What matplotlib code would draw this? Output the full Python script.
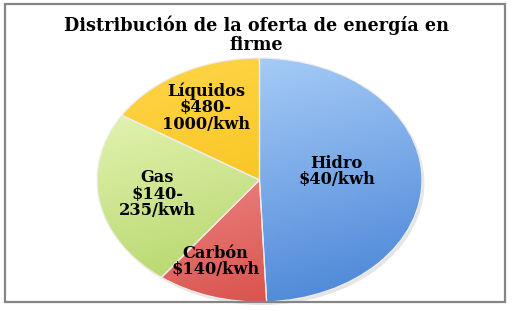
import numpy as np
import matplotlib.pyplot as plt
from matplotlib.colors import LinearSegmentedColormap
from matplotlib.patches import Rectangle, Ellipse

fuentes = ["Hidro", "Carbón", "Gas", "Líquidos"]
costos = ["$40/kwh", "$140/kwh", "$140-\n235/kwh", "$480-\n1000/kwh"]
participacion = [49.3, 11.0, 23.6, 16.1]

# light / dark end of each gradient
colores = [("#b4d6fb", "#4682d6"),
           ("#f9b0ae", "#d64640"),
           ("#eefbc4", "#a6cc52"),
           ("#ffd64a", "#f4b600")]
radio_etiqueta = [0.48, 0.72, 0.64, 0.68]
giro_etiqueta = [7, -5, 0, 0]

fig = plt.figure(figsize=(5.12, 3.11), dpi=100)
fig.patch.set_facecolor("white")

# frame
fig.patches.append(Rectangle((5/512, 1 - 302/311), 500/512, 298/311,
                             transform=fig.transFigure, fill=False,
                             edgecolor="#858585", linewidth=1.6))

fig.text(0.5, 1 - 34.5/311, "Distribución de la oferta de energía en\nfirme",
         ha="center", va="center", fontsize=12.7, fontweight="bold",
         family="DejaVu Serif", linespacing=1.1, color="black")

ax = fig.add_axes([97/512, 9/311, 325/512, 244/311])
wedges, _ = ax.pie(participacion, startangle=90, counterclock=False,
                   wedgeprops=dict(facecolor="none", edgecolor="#eeeeee",
                                   linewidth=0.9, zorder=3))

sombra = Ellipse((0.015, -0.025), 2.0, 2.0, facecolor="#aaaaaa", alpha=0.3,
                 edgecolor="none", zorder=0, clip_on=False)
ax.add_patch(sombra)

yy, xx = np.mgrid[1:-1:300j, -1:1:300j]
t = (0.35 * xx - yy + 1.35) / 2.7
for w, (c1, c2) in zip(wedges, colores):
    cmap = LinearSegmentedColormap.from_list("g", [c1, c2])
    im = ax.imshow(t, cmap=cmap, extent=(-1, 1, -1, 1), vmin=0, vmax=1,
                   zorder=1, aspect="auto", interpolation="bilinear")
    im.set_clip_path(w)

for w, nombre, costo, r, g in zip(wedges, fuentes, costos, radio_etiqueta, giro_etiqueta):
    ang = np.deg2rad((w.theta1 + w.theta2) / 2 + g)
    ax.text(r * np.cos(ang), r * np.sin(ang), nombre + "\n" + costo,
            ha="center", va="center", fontsize=11.7, fontweight="bold",
            family="DejaVu Serif", linespacing=0.95, color="black", zorder=5)

ax.set_xlim(-1, 1)
ax.set_ylim(-1, 1)
ax.set_aspect("auto")
ax.axis("off")

fig.savefig("out.png", dpi=100)
